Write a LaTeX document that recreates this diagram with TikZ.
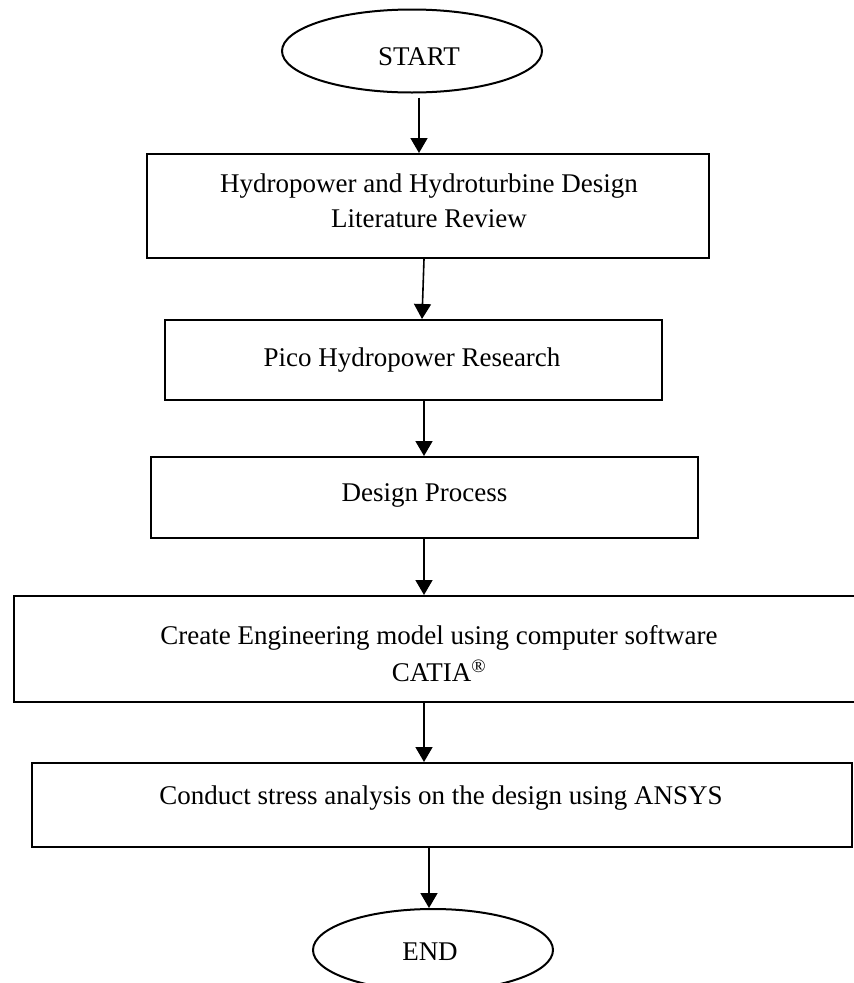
\documentclass[tikz,border=0pt]{standalone}
\usepackage{fontspec}
\setmainfont{Liberation Serif}
\usetikzlibrary{shapes.geometric,arrows.meta}
\begin{document}
\begin{tikzpicture}[x=1pt,y=-1pt,
  every node/.style={font=\fontsize{27}{35}\selectfont},
  every label/.style={align=center,inner sep=0pt},
  boxnode/.style={draw,line width=2pt,rectangle,inner sep=0pt},
  ovalnode/.style={draw,line width=2pt,ellipse,inner sep=0pt},
  arr/.style={line width=1.6pt,-{Triangle[length=15pt,width=17pt]}}]
\useasboundingbox (0,0) rectangle (854,983);
\clip (0,0) rectangle (854,983);
\node[ovalnode,minimum width=260pt,minimum height=83pt,
  label={[xshift=7pt,yshift=-6pt]center:START}] (start) at (412,51) {};
\node[boxnode,minimum width=562pt,minimum height=104pt,
  label={[xshift=1pt,yshift=5.5pt]center:Hydropower and Hydroturbine Design\\Literature Review}] (b1) at (428,206) {};
\node[boxnode,minimum width=497pt,minimum height=80pt,
  label={[xshift=-1.5pt]center:Pico Hydropower Research}] (b2) at (413.5,360) {};
\node[boxnode,minimum width=547pt,minimum height=81pt,
  label={[yshift=2.5pt]center:Design Process}] (b3) at (424.5,497.5) {};
\node[boxnode,minimum width=850pt,minimum height=106pt,
  label={[yshift=-4.5pt,font=\fontsize{27}{37}\selectfont]center:Create Engineering model using computer software\\CATIA\textsuperscript{®}}] (b4) at (439,649) {};
\node[boxnode,minimum width=820pt,minimum height=84pt,
  label={[xshift=-1pt,yshift=7pt]center:Conduct stress analysis on the design using ANSYS}] (b5) at (442,805) {};
\node[ovalnode,minimum width=240pt,minimum height=82pt,
  label={[yshift=-2pt,xshift=-3pt]center:END}] (end) at (433,950) {};
\draw[arr] ([xshift=7pt,yshift=-4pt]start.south) -- ([xshift=-9pt]b1.north);
\draw[arr] ([xshift=-4pt]b1.south) -- ([xshift=8.5pt]b2.north);
\draw[arr] ([xshift=10.5pt]b2.south) -- ([xshift=-0.5pt]b3.north);
\draw[arr] ([xshift=-0.5pt]b3.south) -- ([xshift=-15pt]b4.north);
\draw[arr] ([xshift=-15pt]b4.south) -- ([xshift=-18pt]b5.north);
\draw[arr] ([xshift=-13pt]b5.south) -- ([xshift=-4pt]end.north);
\end{tikzpicture}
\end{document}
